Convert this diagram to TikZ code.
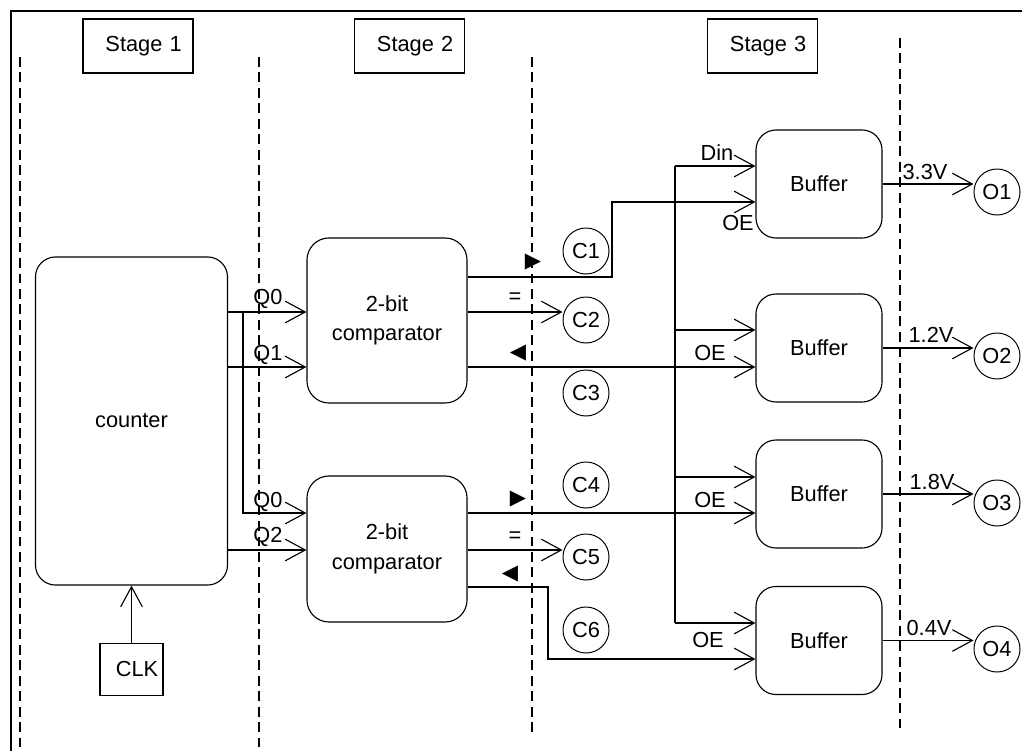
\documentclass[tikz,border=0pt]{standalone}
\usepackage{fontspec}
\setmainfont{Liberation Sans}
\newfontfamily\signfont{DejaVu Sans}
\usepackage{tikz}
\usetikzlibrary{arrows.meta,positioning}
\newcommand{\dfont}{\fontsize{15.5}{21}\selectfont}
\tikzstyle{block} = [rectangle, draw, line width=0.8pt, rounded corners=0.55cm,
    align=center, font=\dfont]
\tikzstyle{tag} = [rectangle, draw, line width=0.8pt, font=\dfont, align=right]
\tikzstyle{stagebox} = [tag, minimum width=2.75cm, minimum height=1.35cm,
    inner xsep=0.28cm, text width=2.19cm]
\tikzstyle{port} = [circle, draw, line width=0.7pt, minimum size=1.15cm, inner sep=0pt, font=\dfont]
\tikzstyle{lbl} = [inner sep=0pt, font=\dfont]
\tikzstyle{sign} = [inner sep=0pt, font=\signfont\fontsize{15}{15}\selectfont]
\tikzstyle{wire} = [line width=0.8pt]
\tikzstyle{arrow} = [wire, -{Straight Barb[length=5mm, width=5.4mm]}]
\tikzstyle{divider} = [line width=0.8pt, dash pattern=on 7pt off 4pt]

\begin{document}
\begin{tikzpicture}[x=0.025cm, y=-0.025cm]
\useasboundingbox (0,0) rectangle (1022,751);
% frame and stage dividers
\draw[wire] (11,751) -- (11,11) -- (1022,11);
\draw[divider] (20,57) -- (20,751);
\draw[divider] (259,57) -- (259,751);
\draw[divider] (532,57) -- (532,733);
\draw[divider] (900,38) -- (900,733);

\node[stagebox] (stage1) at (138,46) {Stage 1};
\node[stagebox] (stage2) at (409.5,46) {Stage 2};
\node[stagebox] (stage3) at (762.5,46) {Stage 3};

% stage 1
\node[block, minimum width=4.8cm, minimum height=8.2cm, rounded corners=0.5cm] (counter) at (131.5,421) {counter};
\node[tag, minimum width=1.575cm, minimum height=1.3cm, inner xsep=0.12cm, text width=1.335cm,
    below=1.425cm of counter] (clk) {CLK};

% stage 2
\node[block, minimum width=4cm, minimum height=4.125cm] (comp1) at (387,320.5) {2-bit\\comparator};
\node[block, minimum width=4cm, minimum height=3.65cm] (comp2) at (387,549) {2-bit\\comparator};

\node[port] (c1) at (586,251) {C1};
\node[port] (c2) at (586,320) {C2};
\node[port] (c3) at (586,393) {C3};
\node[port] (c4) at (586,485) {C4};
\node[port] (c5) at (586,557) {C5};
\node[port] (c6) at (586,630) {C6};

% stage 3
\node[block, minimum width=3.15cm, minimum height=2.7cm, rounded corners=0.5cm] (buf1) at (819,184) {Buffer};
\node[block, minimum width=3.15cm, minimum height=2.7cm, rounded corners=0.5cm] (buf2) at (819,348) {Buffer};
\node[block, minimum width=3.15cm, minimum height=2.7cm, rounded corners=0.5cm] (buf3) at (819,494) {Buffer};
\node[block, minimum width=3.15cm, minimum height=2.7cm, rounded corners=0.5cm] (buf4) at (819,640.5) {Buffer};

\node[port] (o1) at (997,192) {O1};
\node[port] (o2) at (997,356) {O2};
\node[port] (o3) at (997,503) {O3};
\node[port] (o4) at (997,649) {O4};

% wire rows and bends
\coordinate (rowQ0) at (243,312);
\coordinate (rowQ1) at (243,367);
\coordinate (rowQ0b) at (243,513);
\coordinate (rowQ2) at (243,550);
\coordinate (rowGT) at (612,277);
\coordinate (rowOE1) at (612,202);
\coordinate (rowLT) at (548,587);
\coordinate (rowOE4) at (548,659);
\coordinate (busTop) at (675,166);
\coordinate (rowB2) at (675,330);
\coordinate (rowB3) at (675,477);
\coordinate (busBot) at (675,623);

% counter to comparators
\draw[arrow] (counter.east |- rowQ0) -- (comp1.west |- rowQ0);
\draw[arrow] (counter.east |- rowQ1) -- (comp1.west |- rowQ1);
\draw[arrow] (rowQ0) -- (rowQ0b) -- (comp2.west |- rowQ0b);
\draw[arrow] (counter.east |- rowQ2) -- (comp2.west |- rowQ2);
\draw[arrow] (clk.north) -- (clk.north |- counter.south);

% comparator outputs
\draw[arrow] (comp1.east |- rowGT) -- (rowGT) -- (rowOE1) -- (buf1.west |- rowOE1);
\draw[arrow] (comp1.east |- rowQ0) -- (c2.west |- rowQ0);
\draw[arrow] (comp1.east |- rowQ1) -- (buf2.west |- rowQ1);
\draw[arrow] (comp2.east |- rowQ0b) -- (buf3.west |- rowQ0b);
\draw[arrow] (comp2.east |- rowQ2) -- (c5.west |- rowQ2);
\draw[arrow] (comp2.east |- rowLT) -- (rowLT) -- (rowOE4) -- (buf4.west |- rowOE4);

% data bus
\draw[wire] (busTop) -- (busBot);
\draw[arrow] (busTop) -- (buf1.west |- busTop);
\draw[arrow] (rowB2) -- (buf2.west |- rowB2);
\draw[arrow] (rowB3) -- (buf3.west |- rowB3);
\draw[arrow] (busBot) -- (buf4.west |- busBot);

% buffer outputs
\draw[arrow] (buf1.east) -- (buf1.east -| o1.west);
\draw[arrow] (buf2.east) -- (buf2.east -| o2.west);
\draw[arrow] (buf3.east) -- (buf3.east -| o3.west);
\draw[arrow] (buf4.east) -- (buf4.east -| o4.west);

% labels
\node[lbl] (lq0) at (268,299) {Q0};
\node[lbl] (lq1) at (268,355) {Q1};
\node[lbl] (lq0b) at (268,502) {Q0};
\node[lbl] (lq2) at (268,537) {Q2};

\node[sign] (gt1) at (533,262) {▶};
\node[lbl] (eq1) at (515,298) {=};
\node[sign] (lt1) at (518,353) {◀};
\node[sign] (gt2) at (518,499) {▶};
\node[lbl] (eq2) at (515,537) {=};
\node[sign] (lt2) at (510,574) {◀};

\node[lbl] (din) at (717,153) {Din};
\node[lbl] (oe1) at (738,223) {OE};
\node[lbl] (oe2) at (710,353) {OE};
\node[lbl] (oe3) at (710,500) {OE};
\node[lbl] (oe4) at (708,640) {OE};

\node[lbl] (v1) at (925,172) {3.3V};
\node[lbl] (v2) at (931,335) {1.2V};
\node[lbl] (v3) at (932,482) {1.8V};
\node[lbl] (v4) at (929,628) {0.4V};
\end{tikzpicture}
\end{document}
